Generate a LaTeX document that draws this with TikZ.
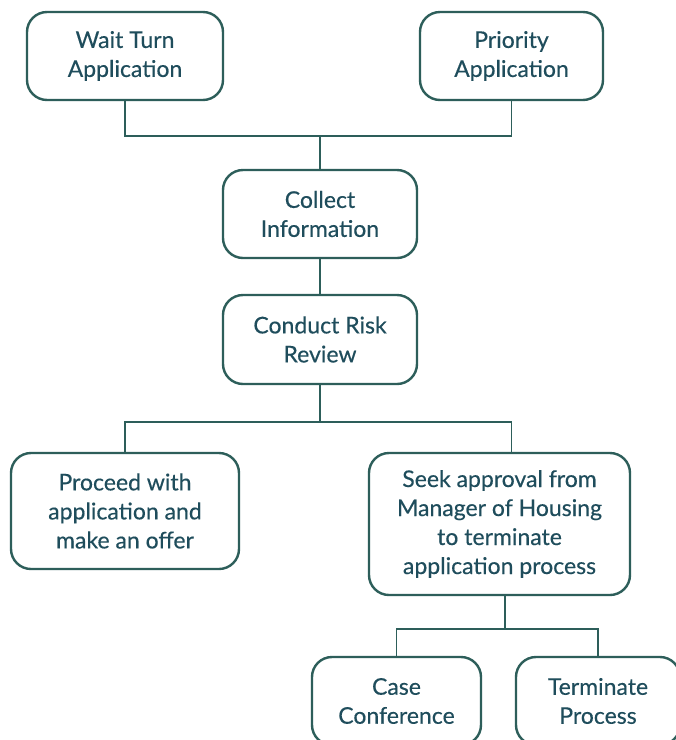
\documentclass[tikz,border=0pt]{standalone}
\usepackage{fontspec}
\setmainfont{Lato}
\newfontfamily\boxfont{Lato}[FakeBold=0.35]
\definecolor{linec}{HTML}{2D5E5A}
\definecolor{textc}{HTML}{1F4D5C}
\begin{document}
\begin{tikzpicture}[x=1pt,y=-1pt,
  box/.style={draw=linec, line width=2.4pt, rounded corners=20pt, fill=white,
    text=textc, align=center, inner sep=0pt,
    font=\boxfont\fontsize{23}{29}\selectfont},
  conn/.style={draw=linec, line width=1.8pt}]
\useasboundingbox[fill=white] (0,0) rectangle (676,740);
\begin{scope}
\clip (0,0) rectangle (676,740);
\node[box, minimum width=196pt, minimum height=88pt] (wait) at (125,56) {Wait Turn\\Application};
\node[box, minimum width=183pt, minimum height=88pt] (prio) at (511.5,56) {Priority\\Application};
\node[box, minimum width=194pt, minimum height=88pt] (collect) at (320,214) {Collect\\Information};
\node[box, minimum width=194pt, minimum height=89pt] (conduct) at (320,339.5) {Conduct Risk\\Review};
\node[box, minimum width=228pt, minimum height=116pt] (proceed) at (125,511) {Proceed with\\application and\\make an offer};
\node[box, minimum width=261pt, minimum height=142pt] (seek) at (499.5,524) {Seek approval from\\Manager of Housing\\to terminate\\application process};
\node[box, minimum width=169pt, minimum height=88pt] (case) at (396.5,701) {Case\\Conference};
\node[box, minimum width=164pt, minimum height=88pt] (term) at (598,701) {Terminate\\Process};
\coordinate (j1) at (320,136);
\coordinate (j2) at (320,422);
\coordinate (j3) at (505,629);
\draw[conn] (wait.south) |- (j1) -| (prio.south);
\draw[conn] (j1) -- (collect.north);
\draw[conn] (collect.south) -- (conduct.north);
\draw[conn] (conduct.south) -- (j2);
\draw[conn] (j2) -| (proceed.north);
\draw[conn] (j2) -| (seek.north -| prio.south);
\draw[conn] (j3 |- seek.south) -- (j3);
\draw[conn] (j3) -| (case.north);
\draw[conn] (j3) -| (term.north);
\end{scope}
\end{tikzpicture}
\end{document}
